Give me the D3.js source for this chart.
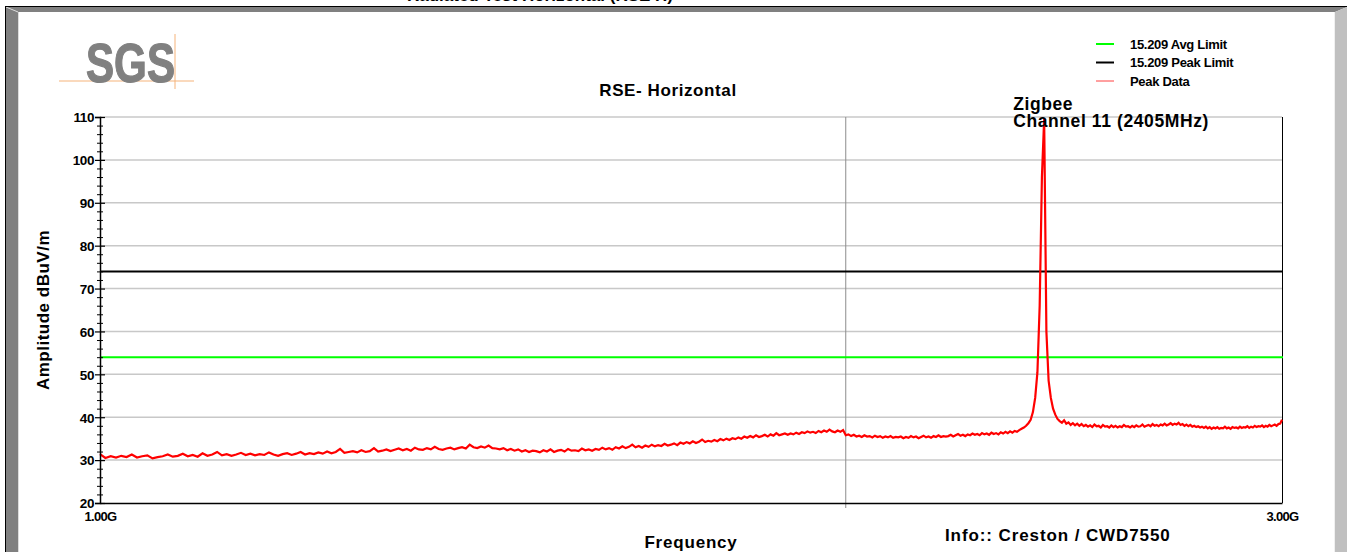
<!DOCTYPE html>
<html>
<head>
<meta charset="utf-8">
<script src="https://cdn.jsdelivr.net/npm/d3@7"></script>
<style>
  body { margin: 0; background: #fff; }
  svg text { font-family: "Liberation Sans", Arial, sans-serif; font-weight: bold; fill: #000; }
</style>
</head>
<body>
<svg id="chart" width="1347" height="552"></svg>
<script>
// Sweep: 1000 MHz to 3000 MHz in 5 MHz steps (401 points)
const sweepStartMHz = 1000;
const sweepStepMHz = 5;

// Peak detector trace, dBuV/m, one row per 100 MHz
const peakDataDb = [
  31.4, 30.5, 30.9, 30.6, 31.0, 30.7, 31.3, 30.6, 30.9, 31.1, 30.4, 30.7, 30.9, 31.3, 30.8, 31.0, 31.5, 30.9, 31.2, 30.8,
  31.6, 31.0, 31.3, 31.9, 31.1, 31.4, 31.0, 31.3, 31.7, 31.2, 31.5, 31.1, 31.4, 31.2, 31.8, 31.3, 31.0, 31.4, 31.6, 31.2,
  31.5, 31.9, 31.3, 31.6, 31.4, 31.8, 31.5, 32.0, 31.6, 31.9, 32.6, 31.7, 31.9, 32.1, 31.8, 32.3, 31.9, 32.1, 32.8, 32.0,
  32.2, 32.5, 32.1, 32.4, 32.7, 32.3, 32.6, 32.2, 32.9, 32.5, 32.4, 32.8, 32.5, 33.1, 32.6, 32.4, 32.7, 32.9, 32.5, 32.8,
  33.0, 32.7, 33.6, 33.0, 32.8, 33.2, 32.9, 33.4, 32.8, 32.7, 32.5, 32.8, 32.3, 32.6, 32.2, 32.5, 32.0, 32.3, 31.9, 32.2,
  32.1, 31.8, 32.3, 32.0, 32.5, 31.9, 32.2, 32.4, 32.0, 32.6, 32.2, 32.3, 32.1, 32.7, 32.3, 32.5, 32.2, 32.6, 32.4, 32.9,
  32.5, 32.8, 32.4, 33.0, 32.7, 33.2, 32.8, 33.1, 33.6, 33.0, 33.3, 32.9, 33.4, 33.1, 33.6, 33.2, 33.5, 33.3, 33.8, 33.4,
  33.6, 33.9, 33.5, 34.1, 33.8, 34.2, 33.9, 34.4, 34.0, 34.3, 34.8, 34.2, 34.5, 34.3, 34.7, 34.4, 34.9, 34.6, 35.0, 34.7,
  35.1, 34.9, 35.3, 35.0, 35.5, 35.2, 35.6, 35.3, 35.8, 35.4, 35.6, 35.9, 35.5, 36.0, 35.7, 36.3, 35.8, 36.0, 36.2, 35.9,
  36.2, 36.0, 36.4, 36.1, 36.5, 36.3, 36.7, 36.4, 36.6, 36.3, 36.8, 36.5, 36.9, 36.6, 37.1, 36.7, 36.5, 36.9, 36.6, 37.0,
  35.8, 36.0, 35.6, 35.9, 35.5, 35.7, 35.4, 35.8, 35.5, 35.6, 35.3, 35.7, 35.4, 35.6, 35.2, 35.5, 35.3, 35.6, 35.2, 35.4,
  35.3, 35.5, 35.1, 35.4, 35.2, 35.6, 35.3, 35.5, 35.1, 35.4, 35.7, 35.3, 35.5, 35.2, 35.6, 35.4, 35.8, 35.4, 35.6, 35.5,
  35.6, 35.9, 35.5, 35.8, 36.1, 35.7, 35.9, 35.6, 36.0, 35.8, 36.2, 35.9, 36.1, 35.8, 36.3, 36.0, 36.2, 35.9, 36.4, 36.1,
  36.3, 36.0, 36.5, 36.2, 36.6, 36.3, 36.7, 36.4, 36.8, 36.6, 37.0, 37.3, 37.6, 38.0, 38.6, 39.4, 41.2, 44.5, 50.5, 66.0,
  96.0, 109.5, 60.0, 48.5, 44.5, 42.0, 40.6, 39.6, 39.1, 38.7, 39.3, 38.5, 38.8, 38.2, 38.6, 38.1, 38.5, 38.0, 38.4, 37.9,
  38.2, 37.8, 38.1, 37.7, 38.3, 37.9, 38.0, 37.6, 38.2, 37.8, 37.9, 37.6, 38.1, 37.7, 38.0, 37.6, 37.9, 37.7, 38.2, 37.8,
  37.9, 37.6, 38.0, 37.7, 38.1, 37.8, 37.9, 38.3, 37.8, 38.0, 38.2, 37.9, 38.4, 38.0, 38.2, 37.9, 38.3, 38.1, 38.5, 38.1,
  38.3, 38.6, 38.2, 38.5, 38.3, 38.7, 38.2, 38.4, 38.0, 38.3, 37.9, 38.2, 37.8, 38.0, 37.7, 37.9, 37.6, 37.8, 37.5, 37.8,
  37.4, 37.7, 37.3, 37.6, 37.4, 37.7, 37.3, 37.5, 37.4, 37.8, 37.4, 37.6, 37.3, 37.7, 37.5, 37.6, 37.4, 37.8, 37.5, 37.7,
  37.6, 37.9, 37.5, 37.8, 37.6, 38.0, 37.7, 37.9, 37.8, 38.1, 37.7, 38.0, 37.8, 38.2, 37.9, 38.1, 38.3, 38.0, 38.4, 38.5,
  39.4
];

// FCC 15.209 limits (dBuV/m)
const limitNames = ["15.209 Avg Limit", "15.209 Peak Limit"];
const limitValues = [54, 74];
const traceName = "Peak Data";

// Axes
const yTickValues = [20, 30, 40, 50, 60, 70, 80, 90, 100, 110];
const xTickValues = [1000, 3000];
const xTickLabels = ["1.00G", "3.00G"];
const markerMHz = [2000];

// Text
const titleText = "Radiated Test Horizontal (RSE H)";
const plotTitle = "RSE- Horizontal";
const yAxisTitle = "Amplitude dBuV/m";
const xAxisTitle = "Frequency";
const infoText = "Info:: Creston / CWD7550";
const annotationLines = ["Zigbee", "Channel 11 (2405MHz)"];
const annotationMHz = 2405;

// ---------- layout & style ----------
const W = 1347, H = 552;
const plot = { left: 100, right: 1282, top: 117, bottom: 503 };
const limitColors = ["#00ff00", "#000000"];
const traceColor = "#ff0000";

const svg = d3.select("#chart");

// Window frame
svg.append("rect").attr("x", 0).attr("y", 0).attr("width", W).attr("height", H).attr("fill", "#fff");
svg.append("polygon").attr("points", "6,7 1347,7 1335,12 18,12").attr("fill", "#808080");
svg.append("polygon").attr("points", "6,7 18,12 18,552 6,552").attr("fill", "#808080");
svg.append("polygon").attr("points", "1347,7 1347,552 1335,552 1335,12").attr("fill", "#c0c0c0");
svg.append("line").attr("x1", 6).attr("y1", 7).attr("x2", 18).attr("y2", 12).attr("stroke", "#d8d8d8").attr("stroke-width", 1);
svg.append("line").attr("x1", 18.5).attr("y1", 12).attr("x2", 18.5).attr("y2", 552).attr("stroke", "#dcdcdc");
svg.append("line").attr("x1", 1334.5).attr("y1", 12).attr("x2", 1334.5).attr("y2", 552).attr("stroke", "#f0f0f0");
svg.append("line").attr("x1", 5).attr("y1", 6.5).attr("x2", W).attr("y2", 6.5).attr("stroke", "#000");
svg.append("line").attr("x1", 5.5).attr("y1", 6).attr("x2", 5.5).attr("y2", H).attr("stroke", "#000");

// Window title (runs above the visible area)
svg.append("text").attr("x", 673).attr("y", 1).attr("text-anchor", "end")
  .style("font-size", "17px").text(titleText);

// SGS logo
const logo = svg.append("g");
logo.append("line").attr("x1", 59).attr("y1", 81).attr("x2", 194).attr("y2", 81)
  .attr("stroke", "#f5b37a").attr("stroke-width", 1);
logo.append("line").attr("x1", 175).attr("y1", 34).attr("x2", 175).attr("y2", 89)
  .attr("stroke", "#f5b37a").attr("stroke-width", 1);
logo.append("text").attr("x", 86).attr("y", 82)
  .attr("textLength", 89).attr("lengthAdjust", "spacingAndGlyphs")
  .style("font-family", "'Liberation Sans Narrow', 'Liberation Sans', Arial, sans-serif")
  .style("font-size", "56px").style("fill", "#808080")
  .style("stroke", "#808080").style("stroke-width", 1.2).text("SGS");

// Scales
const x = d3.scaleLog().domain([1000, 3000]).range([plot.left, plot.right]);
const y = d3.scaleLinear().domain([20, 110]).range([plot.bottom, plot.top]);

// Horizontal grid
svg.append("g").selectAll("line").data(yTickValues.filter(v => v > 20)).join("line")
  .attr("x1", plot.left).attr("x2", plot.right)
  .attr("y1", d => y(d)).attr("y2", d => y(d))
  .attr("stroke", "#c8c8c8").attr("stroke-width", 1.5);

// Marker line at 2 GHz
svg.append("g").selectAll("line").data(markerMHz).join("line")
  .attr("x1", d => x(d)).attr("x2", d => x(d))
  .attr("y1", plot.top).attr("y2", plot.bottom + 5)
  .attr("stroke", "#8c8c8c").attr("stroke-width", 1);

// Right border
svg.append("line").attr("x1", plot.right + 0.5).attr("x2", plot.right + 0.5)
  .attr("y1", plot.top).attr("y2", plot.bottom).attr("stroke", "#000").attr("stroke-width", 1);

// Limit lines
svg.append("g").selectAll("line").data(limitValues).join("line")
  .attr("x1", plot.left).attr("x2", plot.right + 1)
  .attr("y1", d => y(d)).attr("y2", d => y(d))
  .attr("stroke", (d, i) => limitColors[i]).attr("stroke-width", 2);

// Peak data trace
const trace = peakDataDb.map((v, i) => [sweepStartMHz + i * sweepStepMHz, v]);
svg.append("path").datum(trace)
  .attr("fill", "none").attr("stroke", traceColor).attr("stroke-width", 2.2)
  .attr("stroke-linejoin", "miter").attr("stroke-miterlimit", 3)
  .attr("d", d3.line().x(d => x(d[0])).y(d => y(d[1])));

// Y axis with major and minor ticks crossing the axis line
const yAxis = svg.append("g").attr("transform", `translate(${plot.left},0)`)
  .call(d3.axisLeft(y).tickValues(yTickValues).tickSize(5).tickPadding(4).tickFormat(d3.format("d")));
yAxis.select(".domain").attr("stroke", "#000").attr("stroke-width", 1.5);
yAxis.selectAll(".tick line").attr("x1", 5).attr("x2", -5).attr("stroke-width", 1.2);
yAxis.selectAll(".tick text").style("font-size", "13.5px").style("letter-spacing", "-0.4px")
  .attr("dy", "0.36em").attr("x", -6);

const yMinor = svg.append("g").attr("transform", `translate(${plot.left},0)`)
  .call(d3.axisLeft(y).tickValues(d3.range(22, 110, 2).filter(v => v % 10 !== 0)).tickSize(3).tickFormat(""));
yMinor.select(".domain").remove();
yMinor.selectAll(".tick line").attr("x1", 3).attr("x2", -3);

// X axis
const xAxis = svg.append("g").attr("transform", `translate(0,${plot.bottom})`)
  .call(d3.axisBottom(x).tickValues(xTickValues).tickSize(0).tickPadding(9)
    .tickFormat((d, i) => xTickLabels[i]));
xAxis.select(".domain").attr("stroke", "#000").attr("stroke-width", 1.5);
xAxis.selectAll(".tick text").style("font-size", "13px").style("letter-spacing", "-0.7px");

// Titles
svg.append("text").attr("x", 668).attr("y", 96).attr("text-anchor", "middle")
  .style("font-size", "17px").style("letter-spacing", "0.6px").text(plotTitle);
svg.append("text").attr("transform", "translate(49,310) rotate(-90)").attr("text-anchor", "middle")
  .style("font-size", "17px").style("letter-spacing", "0.5px").text(yAxisTitle);
svg.append("text").attr("x", 691).attr("y", 548).attr("text-anchor", "middle")
  .style("font-size", "17px").style("letter-spacing", "0.8px").text(xAxisTitle);
svg.append("text").attr("x", 945).attr("y", 541)
  .style("font-size", "17px").style("letter-spacing", "0.9px").text(infoText);

// Annotation for the fundamental
const ann = svg.append("text").attr("x", x(annotationMHz) - 31).attr("y", 110).style("font-size", "17.5px");
ann.selectAll("tspan").data(annotationLines).join("tspan")
  .attr("x", x(annotationMHz) - 31).attr("dy", (d, i) => i === 0 ? 0 : 17)
  .style("letter-spacing", "0.6px").text(d => d);

// Legend
const legendColors = [...limitColors, "#ff4040"];
const legendLabels = [...limitNames, traceName];
const legend = svg.append("g").attr("transform", "translate(1096,44)");
legend.selectAll("line").data(legendLabels).join("line")
  .attr("x1", 0).attr("x2", 18)
  .attr("y1", (d, i) => i * 18.5).attr("y2", (d, i) => i * 18.5)
  .attr("stroke", (d, i) => legendColors[i]).attr("stroke-width", (d, i) => i < 2 ? 2 : 1);
legend.selectAll("text").data(legendLabels).join("text")
  .attr("x", 34).attr("y", (d, i) => i * 18.5 + 4.5)
  .style("font-size", "13px").style("letter-spacing", "-0.3px").text(d => d);
</script>
</body>
</html>
